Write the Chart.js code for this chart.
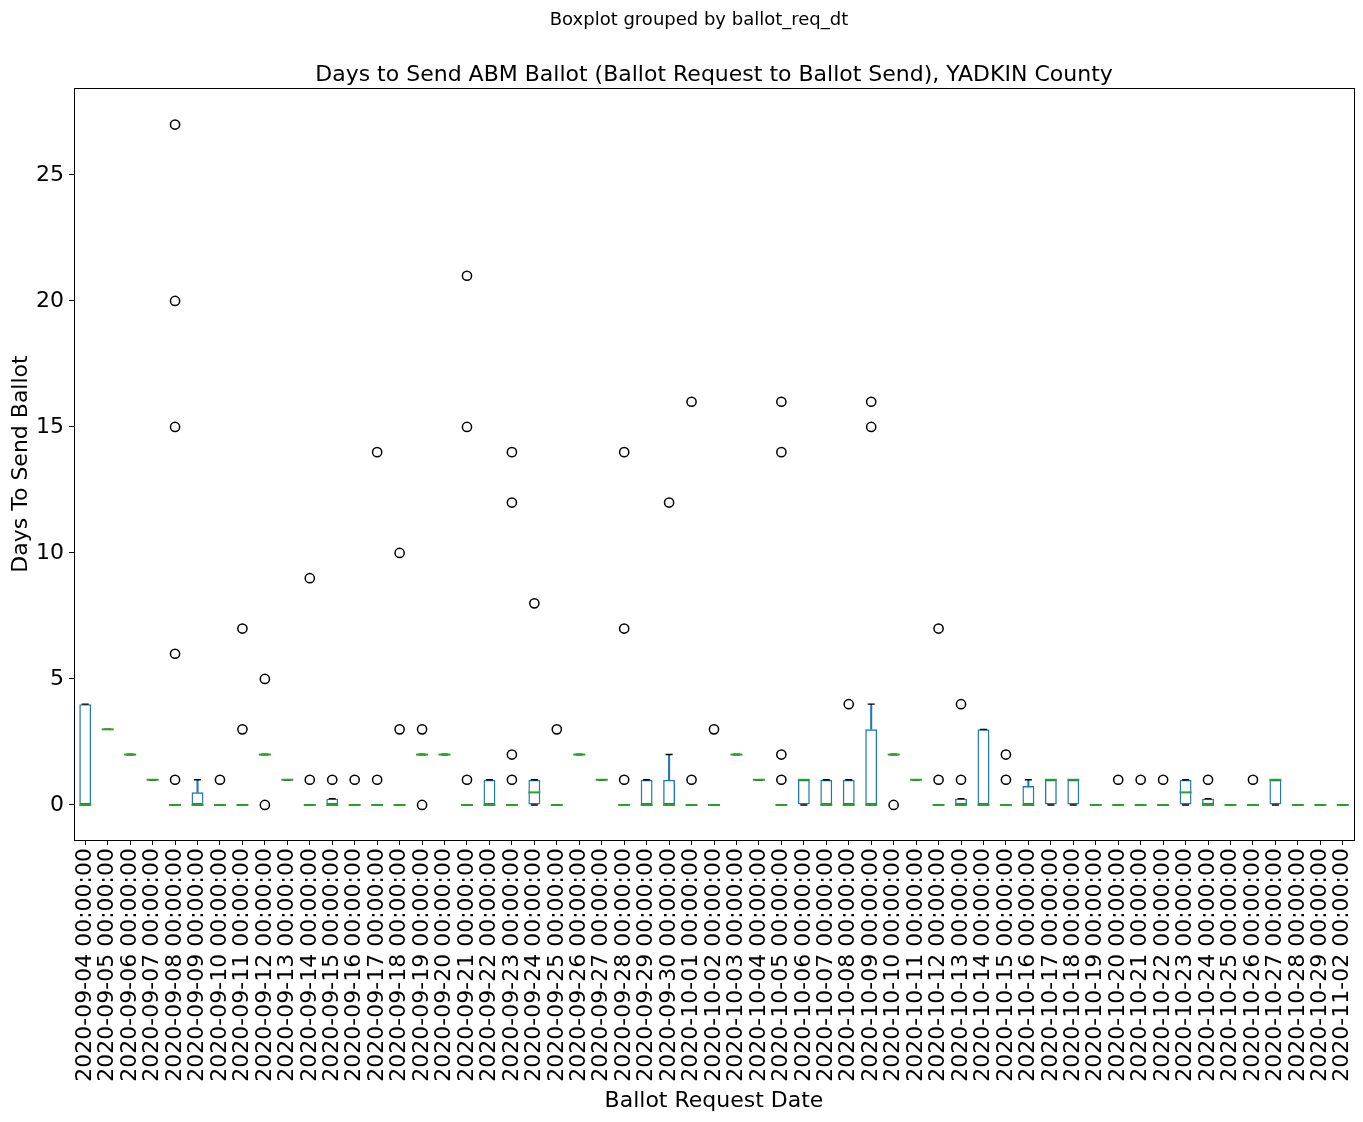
<!DOCTYPE html>
<html>
<head>
<meta charset="utf-8">
<script src="https://cdn.jsdelivr.net/npm/chart.js@4/dist/chart.umd.min.js"></script>
<style>
  html, body { margin: 0; padding: 0; background: #fff; }
  canvas { display: block; }
</style>
</head>
<body>
<canvas id="boxChart" width="1363" height="1122"></canvas>
<script>
const dates = [
  "2020-09-04", "2020-09-05", "2020-09-06", "2020-09-07", "2020-09-08", "2020-09-09", "2020-09-10",
  "2020-09-11", "2020-09-12", "2020-09-13", "2020-09-14", "2020-09-15", "2020-09-16", "2020-09-17",
  "2020-09-18", "2020-09-19", "2020-09-20", "2020-09-21", "2020-09-22", "2020-09-23", "2020-09-24",
  "2020-09-25", "2020-09-26", "2020-09-27", "2020-09-28", "2020-09-29", "2020-09-30", "2020-10-01",
  "2020-10-02", "2020-10-03", "2020-10-04", "2020-10-05", "2020-10-06", "2020-10-07", "2020-10-08",
  "2020-10-09", "2020-10-10", "2020-10-11", "2020-10-12", "2020-10-13", "2020-10-14", "2020-10-15",
  "2020-10-16", "2020-10-17", "2020-10-18", "2020-10-19", "2020-10-20", "2020-10-21", "2020-10-22",
  "2020-10-23", "2020-10-24", "2020-10-25", "2020-10-26", "2020-10-27", "2020-10-28", "2020-10-29",
  "2020-11-02"
];
const dateLabels = dates.map((d) => d + " 00:00:00");

// box stats per request date (days to send)
const whiskerLow = [0,3,2,1,0,0,0,0,2,1,0,0,0,0,0,2,2,0,0,0,0,0,2,1,0,0,0,0,0,2,1,0,0,0,0,0,2,1,0,0,0,0,0,0,0,0,0,0,0,0,0,0,0,0,0,0,0];
const q1 =         [0,3,2,1,0,0,0,0,2,1,0,0,0,0,0,2,2,0,0,0,0,0,2,1,0,0,0,0,0,2,1,0,0,0,0,0,2,1,0,0,0,0,0,0,0,0,0,0,0,0,0,0,0,0,0,0,0];
const medians =    [0,3,2,1,0,0,0,0,2,1,0,0,0,0,0,2,2,0,0,0,0.5,0,2,1,0,0,0,0,0,2,1,0,1,0,0,0,2,1,0,0,0,0,0,1,1,0,0,0,0,0.5,0,0,0,1,0,0,0];
const q3 =         [4,3,2,1,0,0.5,0,0,2,1,0,0.25,0,0,0,2,2,0,1,0,1,0,2,1,0,1,1,0,0,2,1,0,1,1,1,3,2,1,0,0.25,3,0,0.75,1,1,0,0,0,0,1,0.25,0,0,1,0,0,0];
const whiskerHigh = [4,3,2,1,0,1,0,0,2,1,0,0.25,0,0,0,2,2,0,1,0,1,0,2,1,0,1,2,0,0,2,1,0,1,1,1,4,2,1,0,0.25,3,0,1,1,1,0,0,0,0,1,0.25,0,0,1,0,0,0];
const outliers = [
  [], [], [], [], [27, 20, 15, 6, 1], [], [1], [7, 3], [5, 0], [], [9, 1], [1], [1], [14, 1],
  [10, 3], [3, 0], [], [21, 15, 1], [], [14, 12, 2, 1], [8], [3], [], [], [14, 7, 1], [], [12], [16, 1],
  [3], [], [], [16, 14, 2, 1], [], [], [4], [16, 15], [0], [], [7, 1], [4, 1], [], [2, 1],
  [], [], [], [], [1], [1], [1], [], [1], [], [1], [], [], [], []
];

const blue = "#1f77b4";
const green = "#2ca02c";

const boxData = dates.map((d, i) => (q3[i] > q1[i] ? [q1[i], q3[i]] : null));
const upperWhisker = dates.map((d, i) => (whiskerHigh[i] > q3[i] ? [q3[i], whiskerHigh[i]] : null));
const lowerWhisker = dates.map((d, i) => (whiskerLow[i] < q1[i] ? [whiskerLow[i], q1[i]] : null));
const flierPoints = [];
outliers.forEach((vals, i) => {
  vals.forEach((v) => flierPoints.push({ x: dateLabels[i], y: v }));
});

const framePlugin = {
  id: "frame",
  afterLayout(chart) {
    // let the y labels and title use the space left of the axis box
    chart.scales.y.left = 0;
  },
  afterDraw(chart) {
    const { ctx, chartArea } = chart;
    ctx.save();
    ctx.strokeStyle = "#000";
    ctx.lineWidth = 1;
    ctx.strokeRect(Math.round(chartArea.left) + 0.5, Math.round(chartArea.top) + 0.5,
      Math.round(chartArea.right - chartArea.left), Math.round(chartArea.bottom - chartArea.top));
    ctx.restore();
  }
};

Chart.defaults.font.family = "'DejaVu Sans', sans-serif";
Chart.defaults.color = "#000";

const ctx = document.getElementById("boxChart").getContext("2d");
new Chart(ctx, {
  type: "bar",
  data: {
    labels: dateLabels,
    datasets: [
      {
        label: "box",
        data: boxData,
        grouped: false,
        order: 4,
        barPercentage: 0.53,
        categoryPercentage: 1,
        backgroundColor: "rgba(0,0,0,0)",
        borderColor: blue,
        borderWidth: 1.4,
        borderSkipped: false
      },
      {
        label: "upper whisker",
        data: upperWhisker,
        grouped: false,
        order: 3,
        barThickness: 1.4,
        backgroundColor: blue,
        borderWidth: 0
      },
      {
        label: "lower whisker",
        data: lowerWhisker,
        grouped: false,
        order: 3,
        barThickness: 1.4,
        backgroundColor: blue,
        borderWidth: 0
      },
      {
        type: "line",
        label: "cap high",
        data: whiskerHigh,
        showLine: false,
        order: 2,
        pointStyle: "line",
        pointRadius: 3.5,
        pointBorderColor: "#000",
        pointBorderWidth: 1.4
      },
      {
        type: "line",
        label: "cap low",
        data: whiskerLow,
        showLine: false,
        order: 2,
        pointStyle: "line",
        pointRadius: 3.5,
        pointBorderColor: "#000",
        pointBorderWidth: 1.4
      },
      {
        type: "line",
        label: "median",
        data: medians,
        showLine: false,
        order: 1,
        pointStyle: "line",
        pointRadius: 6,
        pointBorderColor: green,
        pointBorderWidth: 2
      },
      {
        type: "scatter",
        label: "fliers",
        data: flierPoints,
        order: 0,
        pointStyle: "circle",
        pointRadius: 4.6,
        pointBackgroundColor: "rgba(0,0,0,0)",
        pointBorderColor: "#000",
        pointBorderWidth: 1.5
      }
    ]
  },
  options: {
    responsive: false,
    animation: false,
    events: [],
    layout: { padding: { left: 44, right: 9, top: 0, bottom: 0 } },
    plugins: {
      legend: { display: false },
      tooltip: { enabled: false },
      title: {
        display: true,
        text: "Boxplot grouped by ballot_req_dt",
        color: "#000",
        font: { size: 18, weight: "normal" },
        padding: { top: 9.5, bottom: 30.5 }
      },
      subtitle: {
        display: true,
        fullSize: false,
        text: "Days to Send ABM Ballot (Ballot Request to Ballot Send), YADKIN County",
        color: "#000",
        font: { size: 22, weight: "normal" },
        padding: { top: 0, bottom: 0 }
      }
    },
    scales: {
      x: {
        offset: true,
        afterFit: (scale) => { scale.height = 282; scale.paddingLeft = 0; scale.paddingRight = 0; },
        grid: { offset: false, drawOnChartArea: false, tickLength: 5, tickColor: "#000", tickWidth: 1 },
        border: { color: "#000", width: 1 },
        ticks: { autoSkip: false, minRotation: 90, maxRotation: 90, padding: 3, color: "#000", font: { size: 22 } },
        title: { display: true, text: "Ballot Request Date", color: "#000", font: { size: 22 }, padding: { top: 0, bottom: 8 } }
      },
      y: {
        min: -1.39,
        max: 28.45,
        afterFit: (scale) => { scale.width = 30; },
        afterBuildTicks: (scale) => { scale.ticks = scale.ticks.filter((t) => t.value % 5 === 0); },
        grid: { drawOnChartArea: false, tickLength: 5, tickColor: "#000", tickWidth: 1 },
        border: { color: "#000", width: 1 },
        ticks: { stepSize: 5, includeBounds: false, padding: 5, color: "#000", font: { size: 22 } },
        title: { display: true, text: "Days To Send Ballot", color: "#000", font: { size: 22 }, padding: { top: 8, bottom: 0 } }
      }
    }
  },
  plugins: [framePlugin]
});
</script>
</body>
</html>
